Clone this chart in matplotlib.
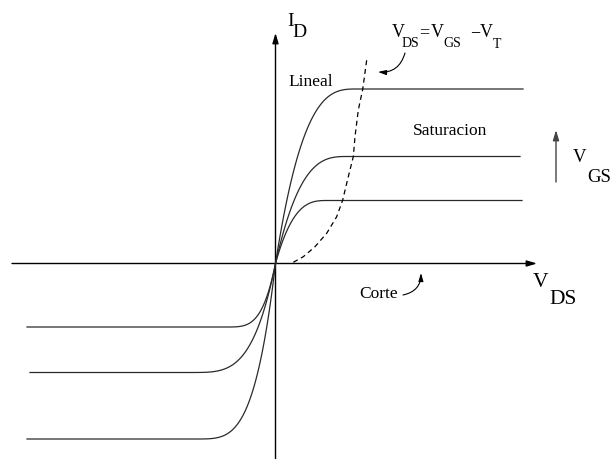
import numpy as np
import matplotlib
matplotlib.use("Agg")
import matplotlib.pyplot as plt
from matplotlib.patches import FancyArrowPatch

plt.rcParams['font.family'] = ['Liberation Serif', 'DejaVu Serif']

# output characteristics, drawing units (origin at the axes crossing)
pos_level = [174.5, 107.0, 63.0]     # saturation current, V_DS > 0
pos_knee = [81.5, 72.5, 52.5]        # V_DS where saturation starts
pos_end = [247.5, 244.5, 246.5]
neg_level = [-63.5, -109.0, -175.5]  # V_DS < 0 branch
neg_knee = [-51.5, -88.5, -82.5]
neg_start = [-248.5, -245.5, -248.5]

# V_DS = V_GS - V_T locus (dashed)
locus_x = [17.8, 27.8, 39.5, 51.2, 61.2, 67.2, 72.8, 77.8, 79.5, 82.8, 87.2, 91.2]
locus_y = [1.2, 6.8, 16.8, 30.2, 46.8, 63.5, 86.8, 106.8, 126.8, 153.5, 174.2, 203.5]

LC = '#2a2a2a'


def knee_curve(xk, yk, n, num=80):
    t = np.linspace(0, 1, num)
    return t * xk, yk * (1 - (1 - t) ** n)


fig = plt.figure(figsize=(6.16, 4.59), dpi=100)
ax = fig.add_axes([0, 0, 1, 1])
ax.set_xlim(-275.5, 340.5)
ax.set_ylim(-195.5, 263.5)
ax.axis('off')

arrow_style = '-|>,head_length=0.6,head_width=0.18'

# axes
ax.add_patch(FancyArrowPatch((-263.5, 0), (261.5, 0), arrowstyle=arrow_style,
                             mutation_scale=10, color='black', lw=1.0,
                             shrinkA=0, shrinkB=0))
ax.add_patch(FancyArrowPatch((0, -195.5), (0, 230.5), arrowstyle=arrow_style,
                             mutation_scale=10, color='black', lw=1.0,
                             shrinkA=0, shrinkB=0))

for lv, xk, xe in zip(pos_level, pos_knee, pos_end):
    cx, cy = knee_curve(xk, lv, 3)
    ax.plot(np.r_[cx, xe], np.r_[cy, lv], color=LC, lw=0.9)

for lv, xk, xs in zip(neg_level, neg_knee, neg_start):
    cx, cy = knee_curve(xk, lv, 4)
    ax.plot(np.r_[xs, cx[::-1]], np.r_[lv, cy[::-1]], color=LC, lw=0.9)

ax.plot(locus_x, locus_y, color='black', lw=0.9, dashes=(4, 3))

# labels
ax.text(11.5, 237.5, 'I', fontsize=14)
ax.text(16.5, 226.5, 'D', fontsize=14)

ax.text(116.5, 226.5, 'V', fontsize=13)
ax.text(126.5, 216.5, 'DS', fontsize=10)
ax.text(144.0, 226.5, '=', fontsize=13)
ax.text(155.0, 226.5, 'V', fontsize=13)
ax.text(168.0, 216.5, 'GS', fontsize=10)
ax.text(194.5, 226.5, '\u2212', fontsize=13)
ax.text(204.5, 226.5, 'V', fontsize=13)
ax.text(217.5, 215.5, 'T', fontsize=10)
ax.add_patch(FancyArrowPatch((129.5, 210.5), (102.5, 191.5), arrowstyle=arrow_style,
                             connectionstyle='arc3,rad=-0.4', mutation_scale=8,
                             color='black', lw=0.8, shrinkA=0, shrinkB=0))

ax.text(12.5, 177.5, 'Lineal', fontsize=12.5)
ax.text(137.5, 128.5, 'Saturacion', fontsize=12.5)

ax.text(83.5, -34.5, 'Corte', fontsize=12.5)
ax.add_patch(FancyArrowPatch((127.5, -31.5), (145.5, -9.5), arrowstyle=arrow_style,
                             connectionstyle='arc3,rad=0.4', mutation_scale=8,
                             color='black', lw=0.8, shrinkA=0, shrinkB=0))

ax.text(257.5, -23.5, 'V', fontsize=15.5)
ax.text(273.5, -40.5, 'DS', fontsize=15.5)

ax.add_patch(FancyArrowPatch((280.5, 81.5), (280.5, 133.5), arrowstyle=arrow_style,
                             mutation_scale=10, color='#444444', lw=1.0,
                             shrinkA=0, shrinkB=0))
ax.text(297.5, 101.5, 'V', fontsize=13.5)
ax.text(311.5, 81.5, 'GS', fontsize=13.5)

fig.savefig('out.png', dpi=100)
